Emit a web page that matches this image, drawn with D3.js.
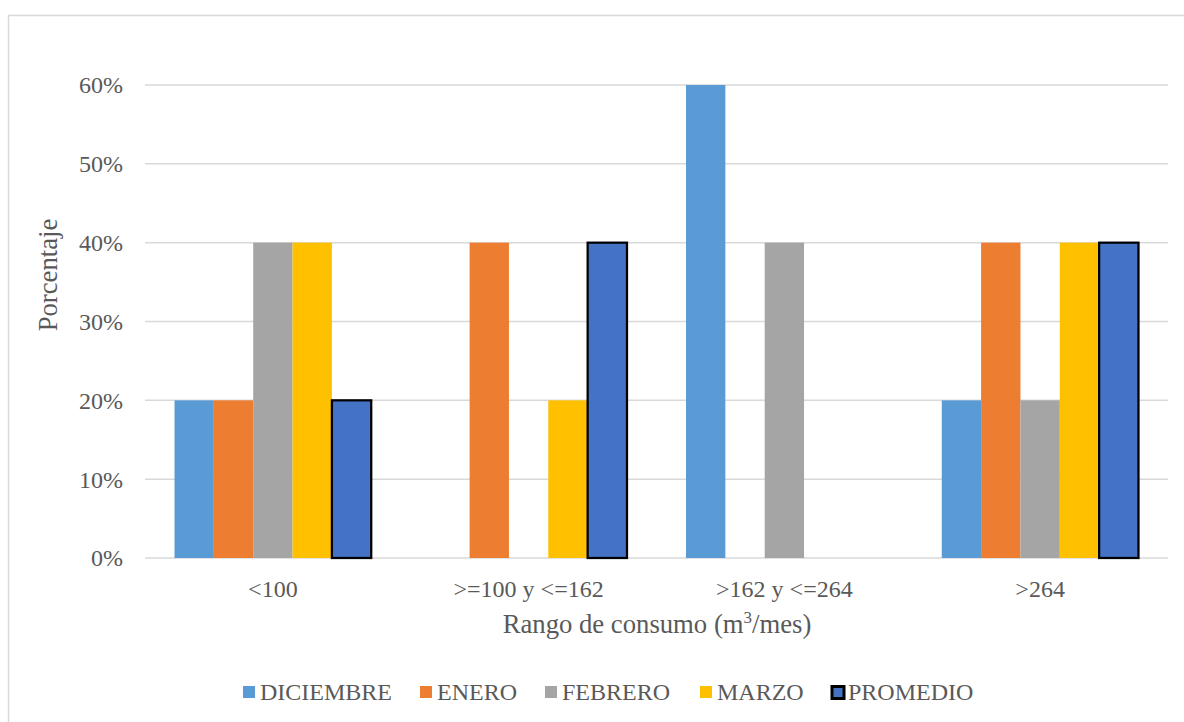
<!DOCTYPE html>
<html>
<head>
<meta charset="utf-8">
<script src="https://cdn.jsdelivr.net/npm/d3@7"></script>
<style>
  body { margin: 0; background: #fff; }
  text { font-family: "Liberation Serif", "Times New Roman", serif; fill: #595959; }
</style>
</head>
<body>
<div id="chart"></div>
<script>
// data
const categories = ["<100", ">=100 y <=162", ">162 y <=264", ">264"];
const months = ["DICIEMBRE", "ENERO", "FEBRERO", "MARZO", "PROMEDIO"];
const diciembre = [0.20, 0.00, 0.60, 0.20];
const enero = [0.20, 0.40, 0.00, 0.40];
const febrero = [0.40, 0.00, 0.40, 0.20];
const marzo = [0.40, 0.20, 0.00, 0.40];
const promedio = [0.20, 0.40, 0.00, 0.40];
const yTicks = [0, 0.1, 0.2, 0.3, 0.4, 0.5, 0.6];

const seriesValues = [diciembre, enero, febrero, marzo, promedio];
const colors = ["#5B9BD5", "#ED7D31", "#A5A5A5", "#FFC000", "#4472C4"];

const width = 1184, height = 722;
const margin = {left: 145, right: 16, top: 85, bottom: 164};

let svg = d3.select("#chart")
    .append("svg")
    .attr("width", width)
    .attr("height", height);

// outer chart border
svg.append("rect")
    .attr("x", 8.5).attr("y", 15.5)
    .attr("width", 1200).attr("height", 720)
    .attr("fill", "none")
    .attr("stroke", "#D9D9D9")
    .attr("stroke-width", 1.5);

const x0 = d3.scaleBand()
    .domain(categories)
    .range([margin.left, width - margin.right]);

// gap width 150% of a bar: each band = 5 bars + 1.5 bar of gap
const barW = x0.bandwidth() / 6.5;
const x1 = d3.scaleBand()
    .domain(months)
    .range([barW * 0.75, barW * 5.75]);

const y = d3.scaleLinear()
    .domain([0, 0.6])
    .range([height - margin.bottom, margin.top]);

// gridlines
svg.append("g")
    .selectAll("line")
    .data(yTicks)
    .join("line")
    .attr("x1", margin.left)
    .attr("x2", width - margin.right)
    .attr("y1", d => y(d))
    .attr("y2", d => y(d))
    .attr("stroke", "#D9D9D9")
    .attr("stroke-width", 1.5);

// y tick labels
svg.append("g")
    .selectAll("text")
    .data(yTicks)
    .join("text")
    .attr("x", 123)
    .attr("y", d => y(d))
    .attr("dy", "0.35em")
    .attr("text-anchor", "end")
    .style("font-size", "24px")
    .text(d3.format(".0%"));

// bars (zero values are not drawn)
const groups = svg.append("g")
    .selectAll("g")
    .data(categories)
    .join("g")
    .attr("transform", d => `translate(${x0(d)},0)`);

groups.selectAll("rect")
    .data((c, ci) => months
        .map((m, si) => ({month: m, si: si, value: seriesValues[si][ci]}))
        .filter(d => d.value > 0))
    .join("rect")
    .attr("x", d => x1(d.month))
    .attr("width", x1.bandwidth())
    .attr("y", d => y(d.value))
    .attr("height", d => y(0) - y(d.value))
    .attr("fill", d => colors[d.si])
    .attr("stroke", d => d.month === "PROMEDIO" ? "#000" : "none")
    .attr("stroke-width", 2.25);

// category labels
svg.append("g")
    .selectAll("text")
    .data(categories)
    .join("text")
    .attr("x", d => x0(d) + x0.bandwidth() / 2)
    .attr("y", 597)
    .attr("text-anchor", "middle")
    .style("font-size", "24px")
    .text(d => d);

// axis titles
let xt = svg.append("text")
    .attr("x", 657)
    .attr("y", 633)
    .attr("text-anchor", "middle")
    .style("font-size", "26.7px");
xt.append("tspan").text("Rango de consumo (m");
xt.append("tspan").attr("dy", -10).style("font-size", "17px").text("3");
xt.append("tspan").attr("dy", 10).text("/mes)");

svg.append("text")
    .attr("transform", "translate(57,275) rotate(-90)")
    .attr("text-anchor", "middle")
    .style("font-size", "26.7px")
    .text("Porcentaje");

// legend
const legendX = [243, 420, 545, 700, 831];
const legend = svg.append("g")
    .selectAll("g")
    .data(months)
    .join("g")
    .attr("transform", (d, i) => `translate(${legendX[i]},686)`);

legend.append("rect")
    .attr("x", (d, i) => i === 4 ? 1 : 0)
    .attr("y", (d, i) => i === 4 ? 0.5 : 0)
    .attr("width", 12)
    .attr("height", 12)
    .attr("fill", (d, i) => colors[i])
    .attr("stroke", (d, i) => i === 4 ? "#000" : "none")
    .attr("stroke-width", 3);

legend.append("text")
    .attr("x", (d, i) => i === 4 ? 17 : 17)
    .attr("y", 14)
    .style("font-size", "24px")
    .text(d => d);
</script>
</body>
</html>
